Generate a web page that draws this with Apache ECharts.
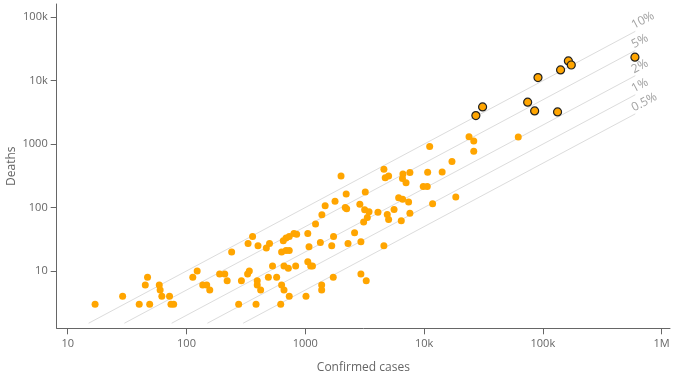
<!DOCTYPE html>
<html>
<head>
<meta charset="utf-8">
<script src="https://cdn.jsdelivr.net/npm/echarts@6/dist/echarts.min.js"></script>
<style>
html,body{margin:0;padding:0;background:#fff;}
#chart{width:679px;height:379px;}
</style>
</head>
<body>
<div id="chart"></div>
<script>
// Countries: [confirmed cases, deaths]
const otherCountries = [
  [17,3],[29,4],[40,3],[49,3],[45,6],[47,8],[59,6],[60,5],[62,4],[72,4],[74,3],[78,3],
  [113,8],[123,10],[137,6],[148,6],[157,5],[190,9],[210,9],[220,7],[240,20],[290,7],[275,3],
  [327,9],[338,10],[330,27],[360,35],[400,25],[394,7],[394,6],[421,5],[385,3],[470,23],[500,27],
  [489,8],[574,8],[530,12],[632,20],[689,21],[733,21],[653,30],[689,33],[733,35],[803,39],[846,38],
  [662,12],[720,11],[830,12],[632,6],[662,5],[733,4],[621,3],[1014,4],[1050,39],[1075,24],[1340,28],
  [1050,14],[1110,12],[1150,12],[1374,6],[1374,5],[1220,55],[1380,77],[1470,107],[1670,25],[1730,35],
  [1720,8],[1780,126],[2000,315],[2170,100],[2230,96],[2210,164],[2290,27],[2600,40],[2880,113],
  [2940,29],[2940,9],[3100,59],[3160,92],[3200,176],[3260,7],[3330,70],[3440,86],[4090,84],[4590,25],
  [4590,400],[4710,296],[5030,315],[4900,78],[5030,65],[5590,93],[6110,143],[6600,135],[7410,122],
  [6430,62],[7600,81],[6640,339],[6580,288],[7050,247],[7600,358],[9840,214],[10640,214],[10720,360],
  [11150,914],[11800,115],[14200,365],[17180,530],[18500,147],[23900,1312],[26200,1122],[26200,773],
  [62100,1300]
];
const highlightedCountries = [
  [27300,2820],[31100,3860],[74500,4580],[85300,3340],[91000,11200],[133000,3220],
  [141000,14800],[164000,20500],[173500,17700],[596000,23500]
];
// Case fatality reference lines
const cfrRates = [0.10, 0.05, 0.02, 0.01, 0.005];
const cfrLabels = ['10%', '5%', '2%', '1%', '0.5%'];
const cfrStartDeaths = 1.5;
const cfrEndCases = 600000;
// Tick labels
const xTicks = [10, 100, 1000, 10000, 100000, 1000000];
const yTicks = [10, 100, 1000, 10000, 100000];

function fmt(v) {
  if (v >= 1000000) return (v / 1000000) + 'M';
  if (v >= 10000) return (v / 1000) + 'k';
  return String(v);
}

const FONT = 'Open Sans';
const series = [];
cfrRates.forEach((r, i) => {
  const startCases = cfrStartDeaths / r;
  series.push({
    type: 'line',
    silent: true,
    showSymbol: false,
    symbol: 'none',
    z: 1,
    lineStyle: {color: '#dcdcdc', width: 1},
    data: [[startCases, cfrStartDeaths], [cfrEndCases, cfrEndCases * r]]
  });
  series.push({
    type: 'scatter',
    silent: true,
    z: 1,
    symbolSize: 1,
    itemStyle: {color: 'rgba(0,0,0,0)'},
    label: {
      show: true,
      position: 'inside',
      align: 'left',
      verticalAlign: 'bottom',
      rotate: 28,
      formatter: cfrLabels[i],
      color: '#888',
      fontFamily: FONT,
      fontSize: 12
    },
    data: [[cfrEndCases, cfrEndCases * r]]
  });
});
series.push({
  type: 'scatter',
  z: 3,
  symbolSize: 7,
  itemStyle: {color: '#FFA500', opacity: 1},
  data: otherCountries
});
series.push({
  type: 'scatter',
  z: 4,
  symbolSize: 8,
  itemStyle: {color: '#FFA500', borderColor: '#222', borderWidth: 1.2, opacity: 1},
  data: highlightedCountries
});

const axisCommon = {
  type: 'log',
  logBase: 10,
  nameLocation: 'middle',
  nameMoveOverlap: false,
  nameTextStyle: {color: '#666', fontFamily: FONT, fontSize: 12},
  axisLine: {show: true, lineStyle: {color: '#666', width: 1}},
  axisTick: {show: true, length: 6, lineStyle: {color: '#666'}},
  splitLine: {show: false},
  minorTick: {show: false},
  axisLabel: {color: '#666', fontFamily: FONT, fontSize: 11, formatter: fmt}
};

const chart = echarts.init(document.getElementById('chart'), null, {renderer: 'canvas'});
chart.setOption({
  animation: false,
  backgroundColor: '#fff',
  grid: {left: 56.7, right: 9, top: 4, bottom: 50.7, containLabel: false, outerBoundsMode: 'none'},
  xAxis: Object.assign({}, axisCommon, {
    name: 'Confirmed cases',
    nameGap: 33,
    min: 8.08,
    max: 1176000,
    axisTick: Object.assign({}, axisCommon.axisTick, {customValues: xTicks}),
    axisLabel: Object.assign({}, axisCommon.axisLabel, {customValues: xTicks, margin: 10})
  }),
  yAxis: Object.assign({}, axisCommon, {
    name: 'Deaths',
    nameGap: 39,
    min: 1.248,
    max: 162000,
    axisTick: Object.assign({}, axisCommon.axisTick, {customValues: yTicks}),
    axisLabel: Object.assign({}, axisCommon.axisLabel, {customValues: yTicks, margin: 9})
  }),
  series: series
});
</script>
</body>
</html>
